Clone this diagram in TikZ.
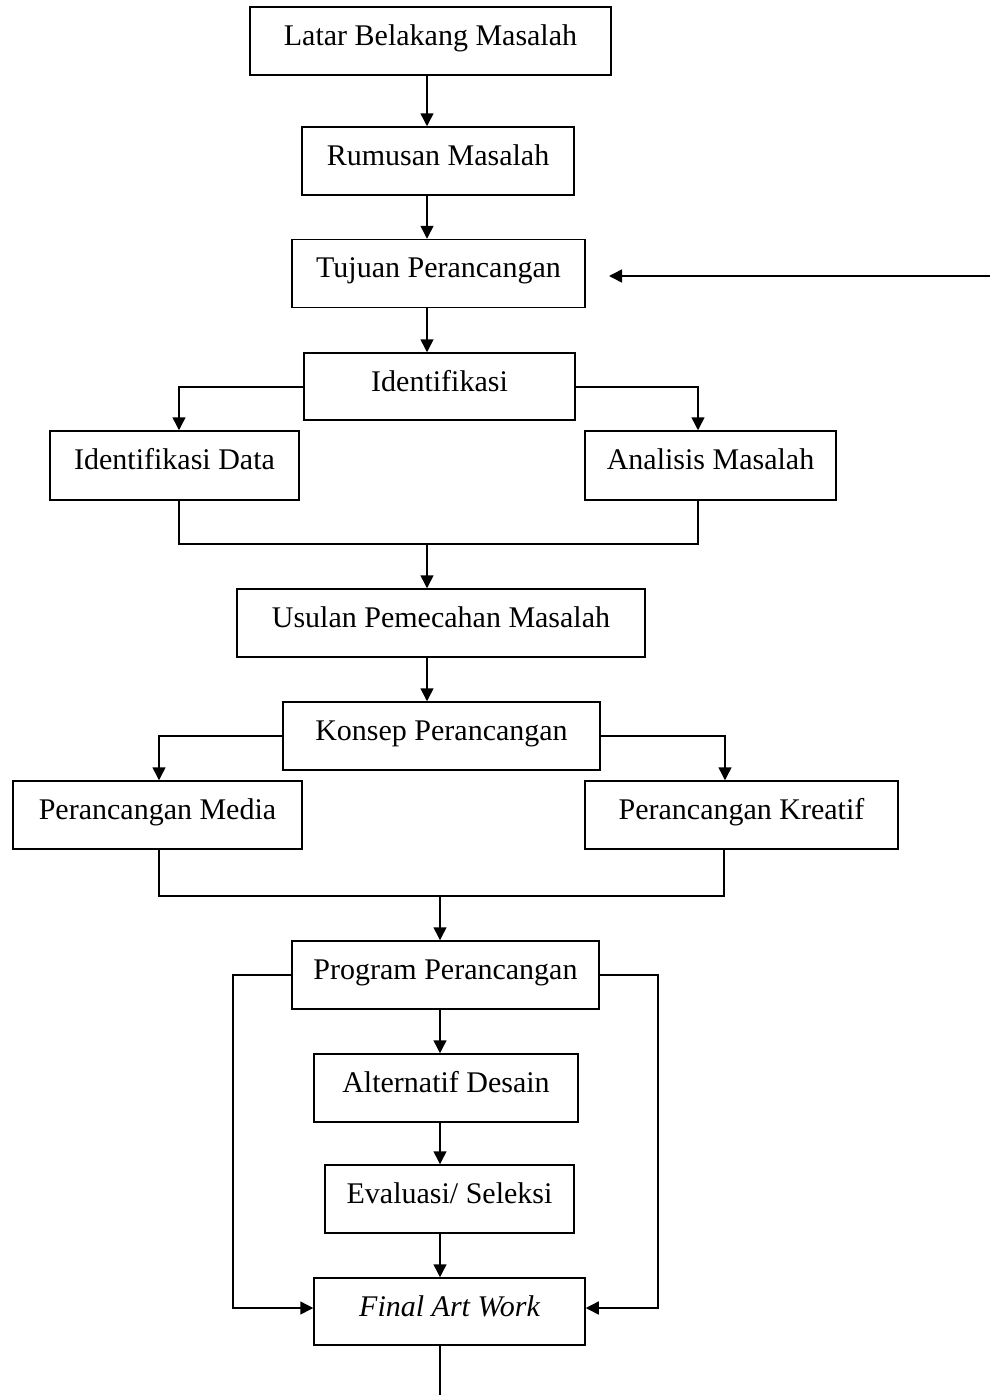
\documentclass[tikz,border=0pt]{standalone}
\usepackage{fontspec}
\setmainfont{Liberation Serif}
\usetikzlibrary{arrows.meta,calc}
\begin{document}
\begin{tikzpicture}[x=1pt,y=-1pt,
  every node/.style={font=\fontsize{30}{34}\selectfont},
  box/.style={draw,line width=1.5pt,inner sep=0pt,text height=38pt,text depth=30pt,minimum height=68pt},
  conn/.style={line width=1.5pt},
  arr/.style={line width=1.5pt,-{Triangle[length=13pt,width=13pt]}}]
\useasboundingbox (0,0) rectangle (990,1395);
% boxes
\node[box,minimum width=361pt] (latar) at (430.5,41) {Latar Belakang Masalah};
\node[box,minimum width=272pt] (rumus) at (438,161) {Rumusan Masalah};
\node[box,minimum width=293pt] (tujuan) at (438.5,273.5) {Tujuan Perancangan};
\node[box,minimum width=271pt,minimum height=67pt,text depth=29pt] (ident) at (439.5,386.5) {Identifikasi};
\node[box,minimum width=249pt,minimum height=69pt,text depth=31pt] (idata) at (174.5,465.5) {Identifikasi Data};
\node[box,minimum width=251pt,minimum height=69pt,text depth=31pt] (anal) at (710.5,465.5) {Analisis Masalah};
\node[box,minimum width=408pt] (usul) at (441,623) {Usulan Pemecahan Masalah};
\node[box,minimum width=317pt] (konsep) at (441.5,736) {Konsep Perancangan};
\node[box,minimum width=289pt] (media) at (157.5,815) {Perancangan Media};
\node[box,minimum width=313pt] (kreatif) at (741.5,815) {Perancangan Kreatif};
\node[box,minimum width=307pt] (prog) at (445.5,975) {Program Perancangan};
\node[box,minimum width=264pt] (alt) at (446,1088) {Alternatif Desain};
\node[box,minimum width=249pt] (eval) at (449.5,1199) {Evaluasi/ Seleksi};
\node[box,minimum width=271pt,minimum height=67pt,text depth=29pt] (final) at (449.5,1311.5) {\itshape Final Art Work};
% external arrow into Tujuan
\coordinate (ext) at (990,276);
\coordinate (tip) at (609,276);
\draw[arr] (ext) -- (tip);
% vertical arrows
\draw[arr] (427,0 |- latar.south) -- (427,0 |- rumus.north);
\draw[arr] (427,0 |- rumus.south) -- (427,0 |- tujuan.north);
\draw[arr] (427,0 |- tujuan.south) -- (427,0 |- ident.north);
% identifikasi branches
\draw[arr] (ident.west |- 0,387) -| (179,0 |- idata.north);
\draw[arr] (ident.east |- 0,387) -| (698,0 |- anal.north);
\draw[conn] (179,0 |- idata.south) |- (698,544) -- (698,0 |- anal.south);
\coordinate (j1) at (427,544);
\draw[arr] (j1) -- (427,0 |- usul.north);
\draw[arr] (427,0 |- usul.south) -- (427,0 |- konsep.north);
% konsep branches
\draw[arr] (konsep.west |- 0,736) -| (159,0 |- media.north);
\draw[arr] (konsep.east |- 0,736) -| (725,0 |- kreatif.north);
\draw[conn] (159,0 |- media.south) |- (724,896) -- (724,0 |- kreatif.south);
\coordinate (j2) at (440,896);
\draw[arr] (j2) -- (440,0 |- prog.north);
% program chain
\draw[arr] (440,0 |- prog.south) -- (440,0 |- alt.north);
\draw[arr] (440,0 |- alt.south) -- (440,0 |- eval.north);
\draw[arr] (440,0 |- eval.south) -- (440,0 |- final.north);
% side bypasses
\draw[arr] (prog.west |- 0,975) -- (233,975) |- (final.west |- 0,1308);
\draw[arr] (prog.east |- 0,975) -- (658,975) |- (final.east |- 0,1308);
% bottom exit
\coordinate (out) at (440,1395);
\draw[conn] (440,0 |- final.south) -- (out);
\end{tikzpicture}
\end{document}
